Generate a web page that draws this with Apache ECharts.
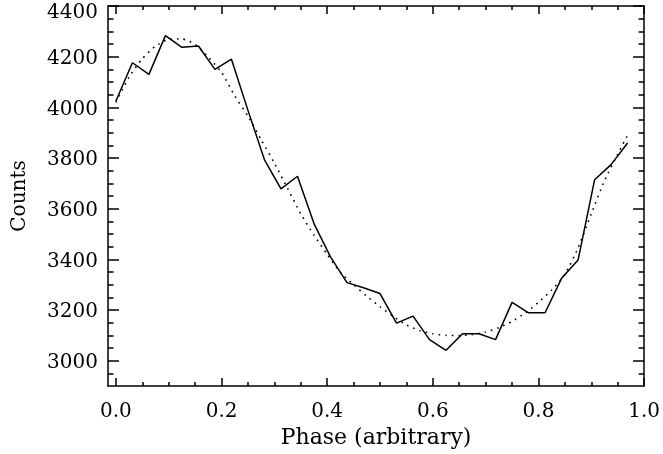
<!DOCTYPE html>
<html>
<head>
<meta charset="utf-8">
<script src="https://cdn.jsdelivr.net/npm/echarts@6/dist/echarts.min.js"></script>
<style>
html,body{margin:0;padding:0;background:#fff;}
#chart{width:663px;height:454px;}
</style>
</head>
<body>
<div id="chart"></div>
<script>
// Measured light curve (32 phase bins)
const phase = [0.0, 0.03125, 0.0625, 0.09375, 0.125, 0.15625, 0.1875, 0.21875,
  0.25, 0.28125, 0.3125, 0.34375, 0.375, 0.40625, 0.4375, 0.46875,
  0.5, 0.53125, 0.5625, 0.59375, 0.625, 0.65625, 0.6875, 0.71875,
  0.75, 0.78125, 0.8125, 0.84375, 0.875, 0.90625, 0.9375, 0.96875];
const counts = [4025, 4176, 4130, 4283, 4237, 4242, 4150, 4190,
  3988, 3793, 3678, 3728, 3541, 3410, 3308, 3288,
  3265, 3148, 3176, 3083, 3041, 3106, 3106, 3083,
  3230, 3189, 3189, 3325, 3397, 3714, 3774, 3859];

// Fitted curve (dotted)
const fitPhase = [0.0, 0.025, 0.05, 0.075, 0.1, 0.125, 0.15, 0.175, 0.2, 0.225,
  0.25, 0.275, 0.3, 0.325, 0.35, 0.375, 0.4, 0.425, 0.45, 0.475,
  0.5, 0.525, 0.55, 0.575, 0.6, 0.625, 0.65, 0.675, 0.7, 0.725,
  0.75, 0.775, 0.8, 0.825, 0.85, 0.875, 0.9, 0.925, 0.95, 0.97];
const fitCounts = [4020, 4120, 4192, 4242, 4268, 4270, 4248, 4198, 4138, 4045,
  3965, 3872, 3780, 3680, 3580, 3495, 3420, 3348, 3300, 3254,
  3213, 3175, 3141, 3119, 3106, 3100, 3099, 3103, 3113, 3130,
  3155, 3188, 3230, 3279, 3340, 3445, 3580, 3710, 3815, 3895];

// Tick values
const xMajor = [0.0, 0.2, 0.4, 0.6, 0.8, 1.0];
const xMinor = [0.05, 0.1, 0.15, 0.25, 0.3, 0.35, 0.45, 0.5, 0.55, 0.65, 0.7, 0.75, 0.85, 0.9, 0.95];
const yMajor = [3000, 3200, 3400, 3600, 3800, 4000, 4200, 4400];
const yMinor = [2950, 3050, 3100, 3150, 3250, 3300, 3350, 3450, 3500, 3550, 3650, 3700, 3750,
  3850, 3900, 3950, 4050, 4100, 4150, 4250, 4300, 4350];

const FONT = 'DejaVu Serif';
const xRange = {min: -0.015, max: 1.0};
const yRange = {min: 2900, max: 4400};
const lineStyle = {color: '#000', width: 1.5};

function xAx(pos, vals, len, withLabels, withLine) {
  return {
    type: 'value', position: pos, min: xRange.min, max: xRange.max,
    axisLine: {show: withLine, onZero: false, lineStyle: lineStyle},
    axisTick: {show: true, inside: true, length: len, customValues: vals, lineStyle: lineStyle},
    axisLabel: withLabels ? {show: true, customValues: vals, margin: 16,
      formatter: v => v.toFixed(1), fontFamily: FONT, fontSize: 20, color: '#000'} : {show: false},
    splitLine: {show: false},
    name: withLabels ? 'Phase (arbitrary)' : '',
    nameLocation: 'middle', nameGap: 41,
    nameTextStyle: {fontFamily: FONT, fontSize: 22, color: '#000'}
  };
}
function yAx(pos, vals, len, withLabels, withLine) {
  return {
    type: 'value', position: pos, min: yRange.min, max: yRange.max,
    axisLine: {show: withLine, onZero: false, lineStyle: lineStyle},
    axisTick: {show: true, inside: true, length: len, customValues: vals, lineStyle: lineStyle},
    axisLabel: withLabels ? {show: true, customValues: vals, margin: 10,
      padding: [4, 0, 0, 0],
      formatter: v => (v === yRange.max ? '{top|' + v + '}' : String(v)),
      rich: {top: {fontFamily: FONT, fontSize: 20, color: '#000', padding: [9, 0, 0, 0]}},
      fontFamily: FONT, fontSize: 20, color: '#000'} : {show: false},
    splitLine: {show: false},
    name: withLabels ? 'Counts' : '',
    nameLocation: 'middle', nameGap: 78, nameRotate: 90,
    nameTextStyle: {fontFamily: FONT, fontSize: 20, color: '#000'}
  };
}

const chart = echarts.init(document.getElementById('chart'), null, {renderer: 'canvas'});
chart.setOption({
  animation: false,
  backgroundColor: '#fff',
  grid: {left: 108, right: 16, top: 6, bottom: 66, containLabel: false},
  xAxis: [
    xAx('bottom', xMajor, 8, true, true),
    xAx('bottom', xMinor, 4, false, false),
    xAx('top', xMajor, 8, false, true),
    xAx('top', xMinor, 4, false, false)
  ],
  yAxis: [
    yAx('left', yMajor, 11, true, true),
    yAx('left', yMinor, 5.5, false, false),
    yAx('right', yMajor, 11, false, true),
    yAx('right', yMinor, 5.5, false, false)
  ],
  series: [
    {
      type: 'line', xAxisIndex: 0, yAxisIndex: 0,
      data: phase.map((p, i) => [p, counts[i]]),
      showSymbol: false, symbol: 'none',
      lineStyle: {color: '#000', width: 1.5}
    },
    {
      type: 'line', xAxisIndex: 0, yAxisIndex: 0,
      data: fitPhase.map((p, i) => [p, fitCounts[i]]),
      showSymbol: false, symbol: 'none', smooth: 0.2,
      lineStyle: {color: '#000', width: 1.6, type: [1.6, 5]}
    }
  ]
});
</script>
</body>
</html>
